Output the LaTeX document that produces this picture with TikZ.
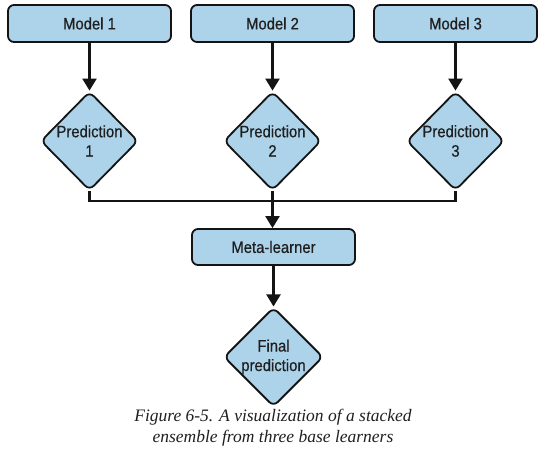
\documentclass[tikz,border=0pt]{standalone}
\usepackage{fontspec}
\setmainfont{Liberation Serif}
\newfontfamily\boxfont[FakeStretch=0.9,FakeBold=0.6]{Liberation Sans}
\usetikzlibrary{shapes.geometric,arrows.meta}
\definecolor{boxfill}{RGB}{172,211,234}
\definecolor{edge}{RGB}{20,20,20}
\tikzset{
  box/.style={draw=edge, fill=boxfill, line width=1.8pt, rounded corners=6pt,
    minimum width=163pt, minimum height=37pt, inner sep=0pt,
    font=\boxfont\fontsize{16.5}{19.5}\selectfont, text=black!88},
  dia/.style={draw=edge, fill=boxfill, line width=1.8pt, diamond, rounded corners=6pt,
    minimum width=91pt, minimum height=99pt, inner sep=0pt, align=center,
    font=\boxfont\fontsize{16.5}{19.5}\selectfont, text=black!88},
  wire/.style={draw=edge, line width=2.2pt},
  arr/.style={wire, -{Triangle[width=14pt,length=12pt]}},
  captext/.style={font=\itshape\fontsize{17.5}{21}\selectfont, text=black!88, align=center}
}
\begin{document}
\begin{tikzpicture}[x=1pt,y=1pt]
\useasboundingbox (0,0) rectangle (550,-458);
\node[box] (m1) at (89.5,-23.5) {Model 1};
\node[box] (m2) at (272.5,-23.5) {Model 2};
\node[box] (m3) at (455.5,-23.5) {Model 3};
\node[dia] (p1) at (89.5,-141) {Prediction\\1};
\node[dia] (p2) at (272.5,-141) {Prediction\\2};
\node[dia] (p3) at (455.5,-141) {Prediction\\3};
\node[box, minimum height=36pt] (meta) at (273.5,-247) {Meta-learner};
\node[dia, minimum height=97pt] (fin) at (273.5,-357) {Final\\prediction};
\coordinate (j) at (272.5,-201);
\draw[arr] (m1) -- (p1);
\draw[arr] (m2) -- (p2);
\draw[arr] (m3) -- (p3);
\draw[wire] (p1.south) |- (j);
\draw[wire] (p3.south) |- (j);
\draw[wire] (p2.south) -- (j);
\draw[arr] (j) -- (j |- meta.north);
\draw[arr] (meta) -- (fin);
\node[captext] (caption) at (273,-427.5) {Figure 6-5. A visualization of a stacked\\ensemble from three base learners};
\end{tikzpicture}
\end{document}
